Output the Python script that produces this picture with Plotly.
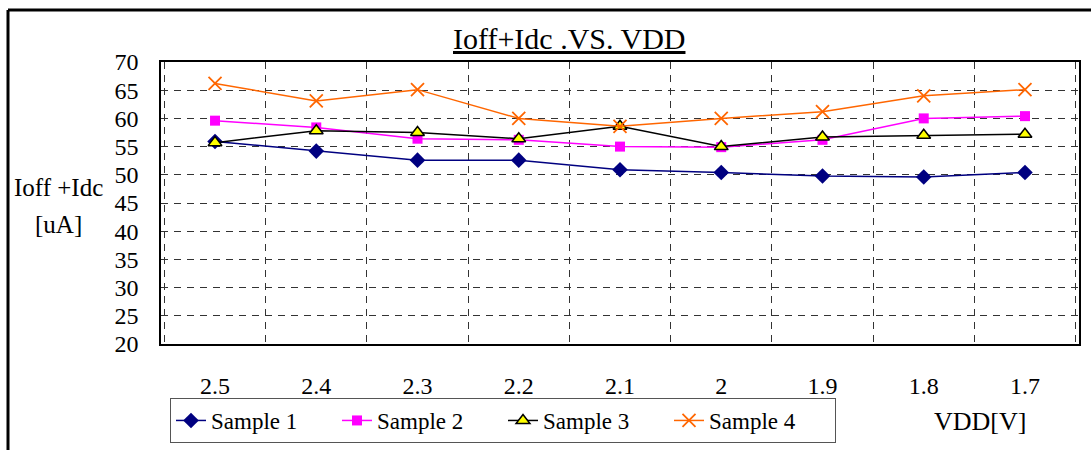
import plotly.graph_objects as go

vdd = ["2.5", "2.4", "2.3", "2.2", "2.1", "2", "1.9", "1.8", "1.7"]
sample1 = [55.9, 54.2, 52.6, 52.6, 50.9, 50.4, 49.8, 49.6, 50.4]
sample2 = [59.6, 58.4, 56.4, 56.2, 55.0, 54.9, 56.2, 60.0, 60.4]
sample3 = [55.7, 57.8, 57.5, 56.4, 58.6, 55.0, 56.7, 57.0, 57.2]
sample4 = [66.2, 63.1, 65.1, 60.0, 58.6, 60.0, 61.2, 64.0, 65.1]
yticks = [20, 25, 30, 35, 40, 45, 50, 55, 60, 65, 70]

FONT = "Liberation Serif, Times New Roman, serif"
L, R, T, B = 161, 12, 62, 106
W, H = 1091, 450
PW, PH = W - L - R, H - T - B

def px(x):
    return (x - L) / PW

def py(y):
    return (H - B - y) / PH

fig = go.Figure()
fig.add_trace(go.Scatter(x=vdd, y=sample1, name="Sample 1", mode="lines+markers",
                         line=dict(color="#000080", width=1.5),
                         marker=dict(symbol="diamond", size=12, color="#000080")))
fig.add_trace(go.Scatter(x=vdd, y=sample2, name="Sample 2", mode="lines+markers",
                         line=dict(color="#FF00FF", width=1.5),
                         marker=dict(symbol="square", size=10, color="#FF00FF")))
fig.add_trace(go.Scatter(x=vdd, y=sample3, name="Sample 3", mode="lines+markers",
                         line=dict(color="#000000", width=1.5),
                         marker=dict(symbol="triangle-up", size=12, color="#FFFF00",
                                     line=dict(color="#000000", width=1.5))))
fig.add_trace(go.Scatter(x=vdd, y=sample4, name="Sample 4", mode="lines+markers",
                         line=dict(color="#FF6600", width=1.5),
                         marker=dict(symbol="x-thin-open", size=13, color="#FF6600",
                                     line=dict(color="#FF6600", width=1.8))))

fig.update_layout(
    width=W, height=H,
    margin=dict(l=L, r=R, t=T, b=B, autoexpand=False),
    paper_bgcolor="white", plot_bgcolor="white",
    font=dict(family=FONT, color="black", size=22),
    showlegend=True,
    legend=dict(orientation="h", x=px(170), y=py(398), xanchor="left", yanchor="top",
                bordercolor="#555555", borderwidth=1, bgcolor="white",
                font=dict(family=FONT, size=23), entrywidth=121, entrywidthmode="pixels",
                tracegroupgap=0),
    xaxis=dict(type="category", categoryorder="array", categoryarray=vdd,
               tickson="boundaries", ticks="", showgrid=True, gridcolor="#333333",
               griddash="7px,6px", gridwidth=1,
               showline=True, linecolor="black", linewidth=1.5, mirror=True,
               tickfont=dict(family=FONT, size=24), ticklabelstandoff=19,
               zeroline=False),
    yaxis=dict(range=[20, 70], tickvals=yticks, ticks="", showgrid=True,
               gridcolor="#333333", griddash="7px,6px", gridwidth=1,
               showline=True, linecolor="black", linewidth=1.5, mirror=True,
               tickfont=dict(family=FONT, size=24), ticklabelstandoff=16,
               zeroline=False),
)

fig.add_annotation(text="<u>Ioff+Idc .VS. VDD</u>", xref="paper", yref="paper",
                   x=px(569), y=py(38), xanchor="center", yanchor="middle",
                   showarrow=False, font=dict(family=FONT, size=30))
fig.add_annotation(text="Ioff +Idc", xref="paper", yref="paper",
                   x=px(58), y=py(187), xanchor="center", yanchor="middle",
                   showarrow=False, font=dict(family=FONT, size=25))
fig.add_annotation(text="[uA]", xref="paper", yref="paper",
                   x=px(58), y=py(224), xanchor="center", yanchor="middle",
                   showarrow=False, font=dict(family=FONT, size=25))
fig.add_annotation(text="VDD[V]", xref="paper", yref="paper",
                   x=px(980), y=py(421), xanchor="center", yanchor="middle",
                   showarrow=False, font=dict(family=FONT, size=26))

# outer frame (top and left)
fig.add_shape(type="line", xref="paper", yref="paper", x0=px(8), x1=px(1095),
              y0=py(10), y1=py(10), line=dict(color="black", width=3))
fig.add_shape(type="line", xref="paper", yref="paper", x0=px(8), x1=px(8),
              y0=py(10), y1=py(455), line=dict(color="black", width=3))

fig.write_html("out.html")
